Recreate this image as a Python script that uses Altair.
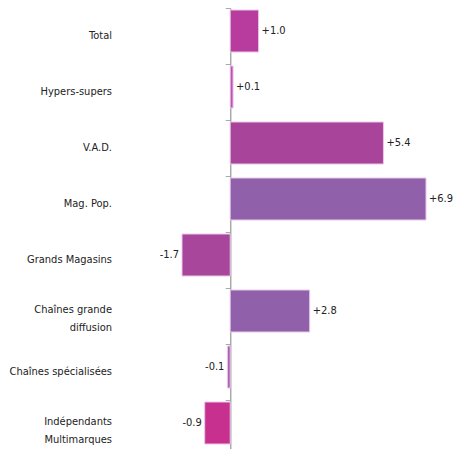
import altair as alt
import pandas as pd

categories = ["Total", "Hypers-supers", "V.A.D.", "Mag. Pop.", "Grands Magasins",
              "Chaînes grande|diffusion", "Chaînes spécialisées", "Indépendants|Multimarques"]
values = [1.0, 0.1, 5.4, 6.9, -1.7, 2.8, -0.1, -0.9]
colors = ["#b83c9e", "#c050b4", "#a8449a", "#9060aa", "#a8469c", "#9060aa", "#b060b4", "#c83090"]

labels = [f"{v:+.1f}" for v in values]
df = pd.DataFrame({"cat": categories, "val": values, "color": colors, "label": labels})
df["multi"] = df["cat"].str.contains("|", regex=False)

FONT = "DejaVu Sans Condensed, Liberation Sans, sans-serif"
XMIN, XMAX = -1.7, 6.9
W, H = 244, 448
offset = -(0 - XMIN) / (XMAX - XMIN) * W
label_x = -70

y = alt.Y("cat:N", sort=categories, title=None,
          scale=alt.Scale(paddingInner=0, paddingOuter=0),
          axis=alt.Axis(offset=offset, tickBand="extent", domainColor="#aaaaaa", domainWidth=1.5,
                        tickColor="#aaaaaa", tickSize=5, labels=False))
x = alt.X("val:Q", scale=alt.Scale(domain=[XMIN, XMAX], nice=False, zero=False), axis=None)
ysimple = alt.Y("cat:N", sort=categories)

bars = alt.Chart(df).mark_bar(size=42, yOffset=-5, stroke="#e8c8e8", strokeWidth=1).encode(
    y=y, x=x, x2=alt.datum(0), color=alt.Color("color:N", scale=None))

text_r = alt.Chart(df).transform_filter("datum.val >= 0").mark_text(
    align="left", dx=3, yOffset=-5, font=FONT, fontSize=11, color="#222222").encode(
    y=ysimple, x=x, text="label:N")
text_l = alt.Chart(df).transform_filter("datum.val < 0").mark_text(
    align="right", dx=-3, yOffset=-5, font=FONT, fontSize=11, color="#222222").encode(
    y=ysimple, x=x, text="label:N")

cat_single = alt.Chart(df).transform_filter("!datum.multi").mark_text(
    align="right", baseline="middle", font=FONT, fontSize=11, color="#222222").encode(
    y=ysimple, x=alt.value(label_x), text="cat:N")
cat_multi = alt.Chart(df).transform_filter("datum.multi").mark_text(
    align="right", baseline="middle", dy=-6, lineBreak="|", lineHeight=18,
    font=FONT, fontSize=11, color="#222222").encode(
    y=ysimple, x=alt.value(label_x), text="cat:N")

chart = alt.layer(bars, text_r, text_l, cat_single, cat_multi).properties(
    width=W, height=H, autosize=alt.AutoSizeParams(type="none"),
    padding={"left": 174, "top": 0, "right": 29, "bottom": -7}
).configure_view(stroke=None)

chart.save("out.html", embed_options={"renderer": "svg", "actions": False})
